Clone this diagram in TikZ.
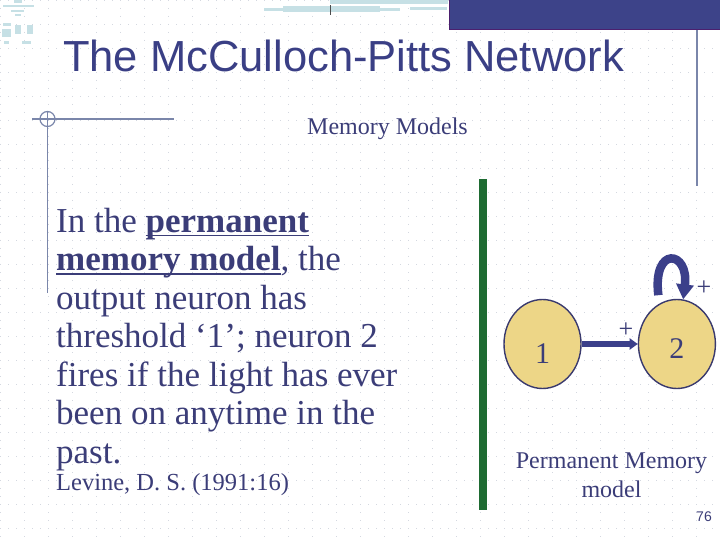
\documentclass[tikz,border=0pt]{standalone}
\usepackage{fontspec}
\setmainfont{Liberation Serif}
\newfontfamily\headfont{Liberation Sans}
\usepackage{xcolor}
\usepackage{tikz}
\usetikzlibrary{arrows.meta,positioning,shapes.geometric}
\definecolor{HeadBlue}{HTML}{3A3F85}
\definecolor{TextBlue}{HTML}{3B3D78}
\definecolor{BarBlue}{HTML}{3D4389}
\definecolor{BarEdge}{HTML}{4B1F6E}
\definecolor{RuleGrey}{HTML}{7A86AA}
\definecolor{Moss}{HTML}{1E6B32}
\definecolor{Sand}{HTML}{EDD687}
\definecolor{NeuronEdge}{HTML}{3A3A6E}
\definecolor{ArrowBlue}{HTML}{3B3F8A}
\definecolor{Teal}{HTML}{C6E0E5}
\definecolor{GridDot}{HTML}{D4D8E0}
\newcommand{\undl}[1]{\setbox0\hbox{\textbf{#1}}\rlap{\rule[-4pt]{\wd0}{1.5pt}}\box0}
\tikzset{
  neuron/.style={
    ellipse, draw=NeuronEdge, line width=1.4pt, fill=Sand,
    minimum width=77pt, minimum height=89pt, inner sep=0pt,
    text=TextBlue, font=\fontsize{30}{30}\selectfont
  },
  synapse/.style={-{Triangle[length=8pt,width=11pt]},line width=6pt,draw=ArrowBlue},
  selfloop/.style={-{Triangle[length=15pt,width=17pt]},line width=8.5pt,draw=ArrowBlue},
  sign/.style={text=TextBlue,inner sep=0pt,font=\fontsize{26}{26}\selectfont},
  body/.style={text=TextBlue,inner sep=0pt,align=left,font=\fontsize{35}{38.5}\selectfont},
  caption/.style={text=TextBlue,inner sep=0pt,align=center,font=\fontsize{24}{29}\selectfont},
  rulebar/.style={draw=RuleGrey,line width=1.2pt},
  griddot/.style={draw=GridDot,line width=0.9pt,dash pattern=on 0.9pt off 7.1pt},
  deco/.style={fill=Teal}
}
\begin{document}
\begin{tikzpicture}[x=1pt,y=-1pt]
  \useasboundingbox (0,0) rectangle (720,540);
  \fill[white] (0,0) rectangle (720,540);
  \foreach \gx in {0,24,...,720} \draw[griddot] (\gx,0) -- (\gx,540);
  \foreach \gy in {0,24,...,540} \draw[griddot] (0,\gy) -- (720,\gy);

  \fill[deco] (14,0) rectangle (22,3);
  \fill[deco] (3,5) rectangle (34,7);
  \fill[deco] (11,10) rectangle (24,12);
  \fill[deco] (15,14) rectangle (21,16);
  \fill[deco] (3,23) rectangle (11,26);
  \fill[deco] (2,29) rectangle (11,37);
  \fill[deco] (4,41) rectangle (9,44);
  \fill[deco] (15,25) rectangle (21,34);
  \fill[deco] (27,25) rectangle (33,34);
  \fill[deco] (22,41) rectangle (31,44);
  \fill[deco] (330,0) rectangle (448,4);
  \fill[deco] (264,8) rectangle (400,11);
  \fill[deco] (283,6) rectangle (380,12);
  \fill[deco] (410,7) rectangle (447,10);
  \fill[black!70] (329.5,5) rectangle (331,15);

  \path[fill=BarBlue,draw=BarEdge,line width=1pt] (449,-2) rectangle (722,30);
  \draw[rulebar] (697,30) -- (697,186);
  \draw[rulebar] (32,119) -- (174,119);
  \draw[rulebar] (47.5,112) -- (47.5,293);
  \draw[rulebar] (47.5,119) circle[radius=7.5];
  \fill[Moss] (479,179) rectangle (487,510);

  \node[anchor=base west,inner sep=0pt,text=HeadBlue,font=\headfont\fontsize{43.5}{43.5}\selectfont] (title) at (63,72) {The McCulloch-Pitts Network};
  \node[anchor=base,inner sep=0pt,text=TextBlue,font=\fontsize{24}{24}\selectfont] (topic) at (387.5,135) {Memory Models};

  \node[body,anchor=north west] (text) at (56,208) {In the \undl{permanent}\\\undl{memory model}, the\\output neuron has\\threshold ‘1’; neuron 2\\fires if the light has ever\\been on anytime in the\\past.};
  \node[anchor=base west,inner sep=0pt,text=TextBlue,font=\fontsize{24.5}{24.5}\selectfont] (cite) at (56,490) {Levine, D. S. (1991:16)};

  \node[neuron] (one) at (542.5,344) {\raisebox{-19pt}[0pt][0pt]{1}};
  \node[neuron,right=56pt of one] (two) {\raisebox{-14.5pt}[0pt][0pt]{2}};
  \node[sign] (plusin) at (626,330) {+};
  \node[sign] (plusloop) at (704,288) {+};
  \draw[synapse] (one) -- (two);
  \draw[selfloop] ([yshift=9pt]two.115) .. controls +(-6,-50) and +(6,-49) .. (two.82);

  \node[caption,anchor=north] (cap) at (611.5,452.6) {Permanent Memory\\model};
  \node[anchor=base east,inner sep=0pt,text=TextBlue,font=\headfont\fontsize{14}{14}\selectfont] (page) at (712,521) {76};
\end{tikzpicture}
\end{document}
